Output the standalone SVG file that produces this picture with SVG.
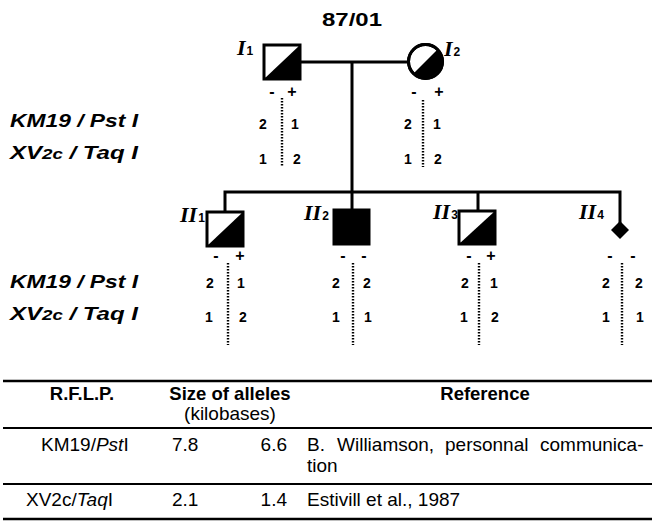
<svg xmlns="http://www.w3.org/2000/svg" width="655" height="522" viewBox="0 0 655 522">
<style>
.ln{stroke:#000;stroke-width:3;fill:none}
.sq{stroke:#000;stroke-width:3;fill:#fff}
.blk{fill:#000}
.dot{stroke:#000;stroke-width:2.4;stroke-dasharray:1.6 1.4;fill:none}
.num{font-family:"Liberation Sans",Arial,sans-serif;font-weight:bold;font-size:14px;text-anchor:middle;fill:#000}
.sgn{font-family:"Liberation Sans",Arial,sans-serif;font-weight:bold;font-size:16px;text-anchor:middle;fill:#000}
.lab{font-family:"Liberation Sans",Arial,sans-serif;font-weight:bold;font-style:italic;font-size:18px;fill:#000}
.id{font-family:"Liberation Serif","Times New Roman",serif;font-weight:bold;font-style:italic;font-size:22px;fill:#000}
.sub{font-family:"Liberation Sans",Arial,sans-serif;font-style:normal;font-weight:bold;font-size:12px}
.th{font-family:"Liberation Sans",Arial,sans-serif;font-weight:bold;font-size:18.5px;fill:#000}
.td{font-family:"Liberation Sans",Arial,sans-serif;font-size:19px;fill:#000}
.rule{stroke:#000;fill:none}
</style>
<text x="352" y="26" font-family="Liberation Sans, Arial, sans-serif" font-weight="bold" font-size="19" text-anchor="middle" textLength="60" lengthAdjust="spacingAndGlyphs">87/01</text>

<g id="connectors">
  <line class="ln" x1="300" y1="62" x2="409" y2="62"/>
  <line class="ln" x1="352" y1="62" x2="352" y2="211"/>
  <polyline class="ln" points="225,213 225,192 620,192 620,223"/>
  <line class="ln" x1="478" y1="192" x2="478" y2="212"/>
</g>

<g id="I1">
  <rect class="sq" x="264" y="45" width="36" height="34"/>
  <polygon class="blk" points="264,79 300,45 300,79"/>
  <text class="id" x="237" y="55">I<tspan class="sub" dx="1">1</tspan></text>
  <text class="sgn" x="272" y="97">-</text><text class="sgn" x="292" y="97">+</text>
  <line class="dot" x1="282" y1="98" x2="282" y2="167"/>
  <text class="num" x="263" y="129">2</text><text class="num" x="295" y="129">1</text>
  <text class="num" x="263" y="164">1</text><text class="num" x="297" y="164">2</text>
</g>

<g id="I2">
  <circle cx="425.5" cy="61.5" r="17" fill="#fff" stroke="#000" stroke-width="3"/>
  <path class="blk" d="M413.5,73.5 A17,17 0 0 0 437.5,49.5 Z"/>
  <circle cx="425.5" cy="61.5" r="17" fill="none" stroke="#000" stroke-width="3"/>
  <text class="id" x="444" y="56">I<tspan class="sub" dx="1">2</tspan></text>
  <text class="sgn" x="414" y="97">-</text><text class="sgn" x="439" y="97">+</text>
  <line class="dot" x1="423" y1="100" x2="423" y2="167"/>
  <text class="num" x="408" y="129">2</text><text class="num" x="437" y="129">1</text>
  <text class="num" x="408" y="164">1</text><text class="num" x="438" y="164">2</text>
</g>

<g id="labels-I">
  <text class="lab" x="10" y="127" textLength="128" lengthAdjust="spacingAndGlyphs">KM19 / Pst I</text>
  <text class="lab" x="10" y="159" textLength="128" lengthAdjust="spacingAndGlyphs">XV<tspan font-size="14">2c</tspan> / Taq I</text>
</g>

<g id="II1">
  <rect class="sq" x="207" y="212" width="36" height="34"/>
  <polygon class="blk" points="207,246 243,212 243,246"/>
  <text class="id" x="180" y="222">II<tspan class="sub" dx="1">1</tspan></text>
  <text class="sgn" x="216" y="261">-</text><text class="sgn" x="240" y="261">+</text>
  <line class="dot" x1="228" y1="263" x2="228" y2="345"/>
  <text class="num" x="210" y="288">2</text><text class="num" x="241" y="288">1</text>
  <text class="num" x="209" y="322">1</text><text class="num" x="243" y="322">2</text>
</g>

<g id="II2">
  <rect x="334" y="210" width="35" height="34" fill="#000" stroke="#000" stroke-width="3"/>
  <text class="id" x="304" y="220">II<tspan class="sub" dx="1">2</tspan></text>
  <text class="sgn" x="343" y="261">-</text><text class="sgn" x="364" y="261">-</text>
  <line class="dot" x1="353" y1="263" x2="353" y2="345"/>
  <text class="num" x="336" y="288">2</text><text class="num" x="367" y="288">2</text>
  <text class="num" x="336" y="322">1</text><text class="num" x="368" y="322">1</text>
</g>

<g id="II3">
  <rect class="sq" x="459" y="211" width="36" height="33"/>
  <polygon class="blk" points="459,244 495,211 495,244"/>
  <text class="id" x="433" y="219">II<tspan class="sub" dx="1">3</tspan></text>
  <text class="sgn" x="469" y="261">-</text><text class="sgn" x="491" y="261">+</text>
  <line class="dot" x1="479" y1="263" x2="479" y2="345"/>
  <text class="num" x="465" y="288">2</text><text class="num" x="494" y="288">1</text>
  <text class="num" x="464" y="322">1</text><text class="num" x="495" y="322">2</text>
</g>

<g id="II4">
  <polygon class="blk" points="620,221 629,230 620,239 611,230"/>
  <text class="id" x="579" y="219">II<tspan class="sub" dx="1">4</tspan></text>
  <text class="sgn" x="610" y="261">-</text><text class="sgn" x="633" y="261">-</text>
  <line class="dot" x1="622" y1="263" x2="622" y2="345"/>
  <text class="num" x="606" y="288">2</text><text class="num" x="639" y="288">2</text>
  <text class="num" x="606" y="322">1</text><text class="num" x="640" y="322">1</text>
</g>

<g id="labels-II">
  <text class="lab" x="10" y="288" textLength="128" lengthAdjust="spacingAndGlyphs">KM19 / Pst I</text>
  <text class="lab" x="10" y="320" textLength="128" lengthAdjust="spacingAndGlyphs">XV<tspan font-size="14">2c</tspan> / Taq I</text>
</g>

<g id="table">
  <line class="rule" x1="3" y1="381" x2="652" y2="381" stroke-width="2.5"/>
  <text class="th" x="82" y="400" text-anchor="middle">R.F.L.P.</text>
  <text class="th" x="230" y="400" text-anchor="middle">Size of alleles</text>
  <text class="td" x="230" y="420" text-anchor="middle">(kilobases)</text>
  <text class="th" x="485" y="400" text-anchor="middle">Reference</text>
  <line class="rule" x1="3" y1="428" x2="652" y2="428" stroke-width="2"/>
  <text class="td" x="41" y="451">KM19/<tspan font-style="italic">Pst</tspan>I</text>
  <text class="td" x="172" y="451">7.8</text>
  <text class="td" x="287" y="451" text-anchor="end">6.6</text>
  <text class="td" y="451"><tspan x="307">B.</tspan><tspan x="337">Williamson,</tspan><tspan x="445">personnal</tspan><tspan x="540">communica-</tspan></text>
  <text class="td" x="307" y="472">tion</text>
  <line class="rule" x1="3" y1="484" x2="652" y2="484" stroke-width="2"/>
  <text class="td" x="26" y="506">XV2c/<tspan font-style="italic">Taq</tspan>I</text>
  <text class="td" x="172" y="506">2.1</text>
  <text class="td" x="287" y="506" text-anchor="end">1.4</text>
  <text class="td" x="307" y="506">Estivill et al., 1987</text>
  <line class="rule" x1="3" y1="519" x2="652" y2="519" stroke-width="2.5"/>
</g>
</svg>
